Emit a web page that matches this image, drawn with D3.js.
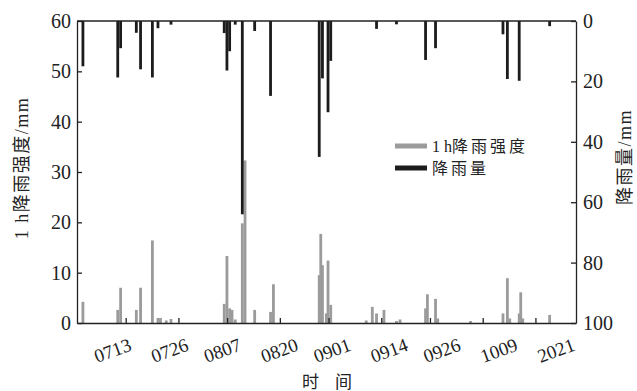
<!DOCTYPE html>
<html>
<head>
<meta charset="utf-8">
<script src="https://cdn.jsdelivr.net/npm/d3@7"></script>
<style>
  body { margin: 0; background: #fff; }
  svg { display: block; }
</style>
</head>
<body>
<div id="chart"></div>
<script>
// rain events: time (month-day hour), daily rainfall (mm) and max 1 h intensity (mm)
const times = [
  "07-02 11", "07-11 01", "07-11 18", "07-15 15", "07-16 16", "07-19 14", "07-20 23", "07-21 14",
  "07-23 00", "07-24 04", "08-06 07", "08-06 23", "08-07 15", "08-08 05", "08-09 00", "08-10 18",
  "08-11 10", "08-13 19", "08-17 17", "08-18 10", "08-29 17", "08-30 02", "08-30 12", "08-31 11",
  "08-31 21", "09-01 13", "09-10 07", "09-11 19", "09-12 20", "09-14 16", "09-17 18", "09-18 15",
  "09-24 22", "09-25 09", "09-27 09", "09-27 22", "10-06 00", "10-14 00", "10-15 02", "10-15 16",
  "10-18 00", "10-18 09", "10-18 21", "10-25 12"
];
const rainfall = [
  15.0, 18.7, 9.0, 3.9, 16.0, 18.7, 2.4, 0,
  0, 1.2, 4.0, 16.4, 10.0, 0, 1.2, 64.0,
  0, 3.3, 24.8, 0, 45.0, 0, 19.0, 0,
  30.2, 13.2, 0, 0, 2.6, 0, 1.1, 0,
  12.9, 0, 9.0, 0, 0, 4.4, 19.2, 0,
  19.8, 0, 0, 1.7
];
const intensity = [
  4.2, 2.6, 7.0, 2.6, 7.0, 16.4, 1.0, 1.0,
  0.5, 0.8, 3.8, 13.3, 2.9, 2.6, 0.7, 19.8,
  32.3, 2.6, 2.2, 7.7, 9.5, 17.7, 11.5, 1.9,
  12.4, 3.6, 0.5, 3.2, 1.9, 2.6, 0.4, 0.7,
  2.9, 5.7, 4.8, 0.9, 0.4, 1.9, 8.9, 0.9,
  1.9, 6.1, 0.9, 1.6
];

const tickDates = ["07-13 00", "07-26 00", "08-07 00", "08-20 00", "09-01 00", "09-14 00", "09-26 00", "10-09 00", "10-22 00"];
const tickLabels = ["0713", "0726", "0807", "0820", "0901", "0914", "0926", "1009", "2021"];
const leftTicks = [0, 10, 20, 30, 40, 50, 60];
const rightTicks = [0, 20, 40, 60, 80, 100];
const seriesNames = [["1 h", "降雨强度"], ["", "降雨量"]];

const width = 637, height = 391;
const margin = {top: 21, right: 61, bottom: 68, left: 77};
const serif = "'Liberation Serif', 'Noto Sans CJK SC', serif";
const ink = "#222";
const grey = "#9b9b9b", black = "#1c1c1c";
const barW = 2.8;

const parse = d3.timeParse("%m-%d %H");
const data = times.map((t, i) => ({t: parse(t), rain: rainfall[i], inten: intensity[i]}));

let svg = d3.select("#chart").append("svg")
  .attr("width", width)
  .attr("height", height);

let x = d3.scaleTime()
  .domain([parse("07-01 00"), parse("11-01 00")])
  .range([margin.left, width - margin.right]);
let yL = d3.scaleLinear().domain([0, 60]).range([height - margin.bottom, margin.top]);
let yR = d3.scaleLinear().domain([0, 100]).range([margin.top, height - margin.bottom]);

// intensity bars rise from the bottom
svg.append("g").selectAll("rect")
  .data(data.filter(d => d.inten > 0))
  .enter().append("rect")
  .attr("x", d => x(d.t) - barW / 2)
  .attr("y", d => yL(d.inten))
  .attr("width", barW)
  .attr("height", d => yL(0) - yL(d.inten))
  .style("fill", grey);

// rainfall bars hang from the top
svg.append("g").selectAll("rect")
  .data(data.filter(d => d.rain > 0))
  .enter().append("rect")
  .attr("x", d => x(d.t) - barW / 2)
  .attr("y", yR(0))
  .attr("width", barW)
  .attr("height", d => yR(d.rain) - yR(0))
  .style("fill", black);

function styleAxis(g) {
  g.attr("font-family", serif).attr("font-size", 20);
  g.selectAll("path, line").attr("stroke", ink).attr("stroke-width", 1.3);
  g.selectAll("text").attr("fill", ink);
}

svg.append("g")
  .attr("transform", "translate(" + margin.left + ",0)")
  .call(d3.axisLeft(yL).tickValues(leftTicks).tickSizeInner(-5).tickSizeOuter(0).tickPadding(6))
  .call(styleAxis);

svg.append("g")
  .attr("transform", "translate(" + (width - margin.right) + ",0)")
  .call(d3.axisRight(yR).tickValues(rightTicks).tickSizeInner(-5).tickSizeOuter(0).tickPadding(7))
  .call(styleAxis);

svg.append("g")
  .attr("transform", "translate(0," + (height - margin.bottom) + ")")
  .call(d3.axisBottom(x).tickValues(tickDates.map(parse)).tickSizeInner(-5).tickSizeOuter(0).tickFormat(""))
  .call(styleAxis);

// top frame line
svg.append("line")
  .attr("x1", margin.left).attr("x2", width - margin.right)
  .attr("y1", margin.top).attr("y2", margin.top)
  .attr("stroke", ink).attr("stroke-width", 1.3);

// date labels sit on their own, slightly wider spacing
let labelX = x.copy().range([80, 620]);
let labelY = height - margin.bottom + 27;
svg.append("g").selectAll("text")
  .data(tickDates)
  .enter().append("text")
  .attr("x", d => labelX(parse(d)))
  .attr("y", labelY)
  .attr("transform", d => "rotate(-20," + labelX(parse(d)) + "," + labelY + ")")
  .attr("text-anchor", "end")
  .attr("font-family", serif)
  .attr("font-size", 19)
  .attr("fill", ink)
  .text((d, i) => tickLabels[i]);

// axis titles
svg.append("text")
  .attr("transform", "translate(28,168) rotate(-90)")
  .attr("text-anchor", "middle")
  .attr("font-family", serif)
  .attr("font-size", 18)
  .attr("letter-spacing", 1.5)
  .attr("fill", ink)
  .text("1 h降雨强度/mm");

svg.append("text")
  .attr("transform", "translate(631,157) rotate(-90)")
  .attr("text-anchor", "middle")
  .attr("font-family", serif)
  .attr("font-size", 18)
  .attr("letter-spacing", 1.5)
  .attr("fill", ink)
  .text("降雨量/mm");

svg.append("text")
  .attr("x", 330)
  .attr("y", 388)
  .attr("text-anchor", "middle")
  .attr("font-family", serif)
  .attr("font-size", 17)
  .attr("letter-spacing", 6)
  .attr("fill", ink)
  .text("时 间");

// legend
let legend = svg.append("g").attr("transform", "translate(395,146)");
[grey, black].forEach((c, i) => {
  legend.append("line")
    .attr("x1", 0).attr("x2", 32)
    .attr("y1", i * 22).attr("y2", i * 22)
    .attr("stroke", c).attr("stroke-width", 5);
  let t = legend.append("text")
    .attr("x", 37)
    .attr("y", i * 22)
    .attr("dy", "0.35em")
    .attr("font-family", serif)
    .attr("font-size", 16)
    .attr("fill", ink);
  t.append("tspan").text(seriesNames[i][0]);
  t.append("tspan").attr("letter-spacing", 3).text(seriesNames[i][1]);
});
</script>
</body>
</html>
